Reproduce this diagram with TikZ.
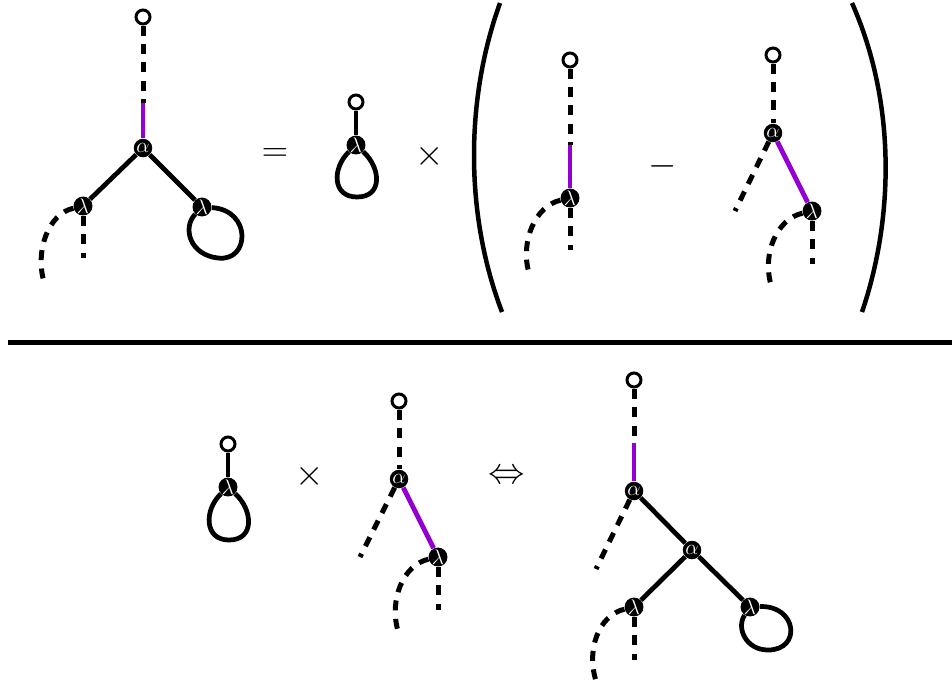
\documentclass[tikz,border=0pt]{standalone}
\usepackage{amsmath,amssymb}
\usepackage{tikz}
\usetikzlibrary{calc}
\usepackage{xcolor}

\definecolor{edgeviolet}{RGB}{148,0,211}
\tikzset{
  vtx/.style={circle,fill=black,inner sep=0pt,minimum size=0.37cm,text=white,font=\large},
  rootv/.style={circle,draw=black,fill=white,line width=0.06cm,inner sep=0pt,minimum size=0.28cm},
  solidedge/.style={line width=0.095cm},
  dashedge/.style={line width=0.1cm,dash pattern=on 0.2cm off 0.17cm},
  violetedge/.style={line width=0.095cm,edgeviolet},
  opsym/.style={font=\fontsize{21}{25}\selectfont}
}

\begin{document}
\begin{tikzpicture}[x=0.02cm,y=-0.02cm]
\useasboundingbox (0,0) rectangle (952,691);
% top row, left tree
\node[rootv] (a_r) at (143,17) {};
\node[vtx] (a_al) at (143,148) {$\alpha$};
\node[vtx] (a_l1) at (83,206) {$\lambda$};
\node[vtx] (a_l2) at (202,207) {$\lambda$};
\coordinate (a_m) at (143,103);
\coordinate (a_d1) at (83,258);
\coordinate (a_d2) at (44,282);
\coordinate (a_lp) at (218,258);
\draw[dashedge] (a_r) -- (a_m);
\draw[violetedge] (a_m) -- (a_al);
\draw[solidedge] (a_al) -- (a_l1);
\draw[solidedge] (a_al) -- (a_l2);
\draw[dashedge] (a_l1) -- (a_d1);
\draw[dashedge] (a_l1) .. controls (48,214) and (35,251) .. (a_d2);
\draw[solidedge] (a_l2) .. controls (252,210) and (250,262) .. (a_lp) .. controls (190,255) and (182,228) .. (a_l2);
\node[opsym] (eq) at (275,155) {$=$};
% tadpole
\node[rootv] (b_r) at (356,102) {};
\node[vtx] (b_l) at (356,145) {$\lambda$};
\coordinate (b_lp) at (357,197);
\draw[solidedge] (b_r) -- (b_l);
\draw[solidedge] (b_l) .. controls (332,168) and (332,197) .. (b_lp) .. controls (383,197) and (381,168) .. (b_l);
\node[opsym] (times1) at (430,156) {$\times$};
% brackets
\draw[line width=0.09cm] (500,3) .. controls (465,100) and (465,215) .. (502,312);
\draw[line width=0.09cm] (852,3) .. controls (895,100) and (895,215) .. (862,312);
% inside brackets, first term
\node[rootv] (c_r) at (570,60) {};
\node[vtx] (c_l) at (570,198) {$\lambda$};
\coordinate (c_m) at (570,145);
\coordinate (c_d1) at (570,250);
\coordinate (c_d2) at (529,273);
\draw[dashedge] (c_r) -- (c_m);
\draw[violetedge] (c_m) -- (c_l);
\draw[dashedge] (c_l) -- (c_d1);
\draw[dashedge] (c_l) .. controls (535,206) and (520,242) .. (c_d2);
\node[opsym] (minus) at (663,166) {$-$};
% inside brackets, second term
\node[rootv] (d_r) at (773,55) {};
\node[vtx] (d_al) at (773,133) {$\alpha$};
\node[vtx] (d_l) at (812,211) {$\lambda$};
\coordinate (d_s) at (735,211);
\coordinate (d_d1) at (812,264);
\coordinate (d_d2) at (771,285);
\draw[dashedge] (d_r) -- (d_al);
\draw[violetedge] (d_al) -- (d_l);
\draw[dashedge] (d_al) -- (d_s);
\draw[dashedge] (d_l) -- (d_d1);
\draw[dashedge] (d_l) .. controls (777,219) and (762,253) .. (d_d2);
% separator
\draw[line width=0.1cm] (8,342) -- (952,342);
% bottom row, tadpole
\node[rootv] (e_r) at (228,444) {};
\node[vtx] (e_l) at (228,487) {$\lambda$};
\coordinate (e_lp) at (229,540);
\draw[solidedge] (e_r) -- (e_l);
\draw[solidedge] (e_l) .. controls (204,510) and (204,540) .. (e_lp) .. controls (255,540) and (253,510) .. (e_l);
\node[opsym] (times2) at (310,476) {$\times$};
% bottom row, middle tree
\node[rootv] (f_r) at (399,401) {};
\node[vtx] (f_al) at (399,479) {$\alpha$};
\node[vtx] (f_l) at (438,557) {$\lambda$};
\coordinate (f_s) at (360,557);
\coordinate (f_d1) at (438,610);
\coordinate (f_d2) at (398,631);
\draw[dashedge] (f_r) -- (f_al);
\draw[violetedge] (f_al) -- (f_l);
\draw[dashedge] (f_al) -- (f_s);
\draw[dashedge] (f_l) -- (f_d1);
\draw[dashedge] (f_l) .. controls (403,565) and (389,600) .. (f_d2);
\node[opsym] (equiv) at (507,477) {$\Leftrightarrow$};
% bottom row, right tree
\node[rootv] (g_r) at (634,380) {};
\node[vtx] (g_a1) at (634,491) {$\alpha$};
\node[vtx] (g_a2) at (692,550) {$\alpha$};
\node[vtx] (g_l1) at (634,607) {$\lambda$};
\node[vtx] (g_l2) at (750,607) {$\lambda$};
\coordinate (g_m) at (634,443);
\coordinate (g_s) at (596,569);
\coordinate (g_d1) at (634,660);
\coordinate (g_d2) at (597,684);
\coordinate (g_lp) at (768,650);
\draw[dashedge] (g_r) -- (g_m);
\draw[violetedge] (g_m) -- (g_a1);
\draw[dashedge] (g_a1) -- (g_s);
\draw[solidedge] (g_a1) -- (g_a2);
\draw[solidedge] (g_a2) -- (g_l1);
\draw[solidedge] (g_a2) -- (g_l2);
\draw[dashedge] (g_l1) -- (g_d1);
\draw[dashedge] (g_l1) .. controls (599,615) and (585,650) .. (g_d2);
\draw[solidedge] (g_l2) .. controls (797,605) and (802,650) .. (g_lp) .. controls (746,650) and (736,628) .. (g_l2);
\end{tikzpicture}
\end{document}
